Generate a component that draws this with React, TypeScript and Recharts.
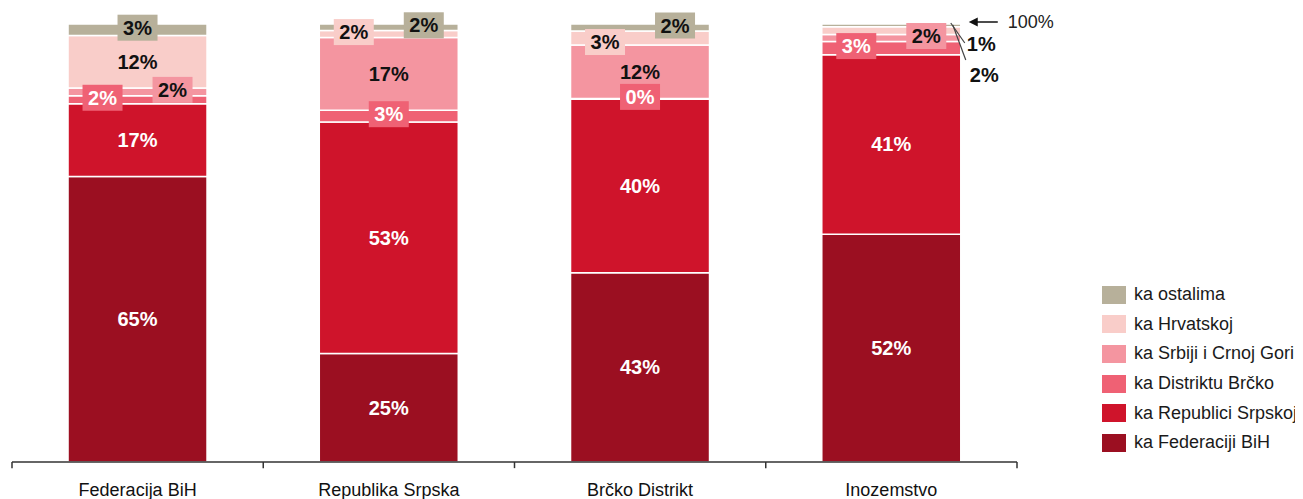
import { BarChart, Bar, XAxis, YAxis, LabelList, Legend, ReferenceLine } from 'recharts'

const FONT = '"Liberation Sans", Arial, sans-serif'

// categories on the x axis
const categories = ['Federacija BiH', 'Republika Srpska', 'Brčko Distrikt', 'Inozemstvo']

// share (%) of each destination, bottom to top of the stack
const seriesNames = [
  'ka Federaciji BiH',
  'ka Republici Srpskoj',
  'ka Distriktu Brčko',
  'ka Srbiji i Crnoj Gori',
  'ka Hrvatskoj',
  'ka ostalima',
]
const toFederacija = [65.2, 24.8, 43.2, 52.0]
const toRepublika = [16.6, 52.8, 39.6, 41.0]
const toDistrikt = [1.8, 2.7, 0.2, 3.0]
const toSrbija = [1.8, 16.6, 12.2, 1.6]
const toHrvatska = [12.0, 1.6, 3.2, 1.8]
const toOstali = [2.6, 1.5, 1.6, 0.6]

const seriesValues = [toFederacija, toRepublika, toDistrikt, toSrbija, toHrvatska, toOstali]
const seriesKeys = ['fbih', 'rs', 'bd', 'scg', 'hr', 'ost']
const seriesColors = ['#9b0f21', '#cf142b', '#ef6174', '#f495a0', '#f9cdc9', '#b7b09a']
const labelColors = ['#fff', '#fff', '#fff', '#111', '#111', '#111']

const data = categories.map((name, i) => {
  const row: Record<string, string | number> = { name }
  seriesKeys.forEach((k, s) => {
    row[k] = seriesValues[s][i]
  })
  return row
})

// where each segment label goes
type Place = {
  at: 'c' | 'box' | 'l' | 'r' | 'out'
  dy?: number
  line?: [number, number, number, number]
  text?: [number, number]
  arrow?: boolean
}
const C: Place = { at: 'c' }
const BOX: Place = { at: 'box' }
const L: Place = { at: 'l' }
const R: Place = { at: 'r' }
const OUT_HR: Place = { at: 'out', line: [-8, -1.6, 5, 33.4], text: [9, 48.4] }
const OUT_OST: Place = { at: 'out', line: [-10, -1, 4, 19], text: [6, 20], arrow: true }

const placements: Place[][] = [
  [C, C, C, C],
  [C, C, C, C],
  [L, BOX, BOX, L],
  [R, C, C, R],
  [C, L, { at: 'l', dy: 4 }, OUT_HR],
  [BOX, R, R, OUT_OST],
]

const renderLabel = (s: number) => (props: any) => {
  const vb = props.viewBox ?? props
  const x = Number(vb.x)
  const y = Number(vb.y)
  const w = Number(vb.width)
  const h = Number(vb.height)
  const i = Number(props.index)
  const value = seriesValues[s][i]
  if (value == null || isNaN(x)) return null
  const text = `${Math.round(value)}%`
  const p = placements[s][i]
  const cx = x + w / 2
  const cy = y + h / 2

  const txt = (tx: number, ty: number, fill: string, anchor = 'middle') => (
    <text
      x={tx}
      y={ty}
      fill={fill}
      textAnchor={anchor}
      dominantBaseline="central"
      fontSize={20}
      fontWeight="bold"
      fontFamily={FONT}
    >
      {text}
    </text>
  )

  if (p.at === 'c') return txt(cx, cy, labelColors[s])

  if (p.at === 'out') {
    const r = x + w
    const [lx1, ly1, lx2, ly2] = p.line!
    const [tx, ty] = p.text!
    return (
      <g>
        <line x1={r + lx1} y1={y + ly1} x2={r + lx2} y2={y + ly2} stroke="#444" strokeWidth={1.2} />
        {txt(r + tx, y + ty, '#111', 'start')}
        {p.arrow && (
          <g>
            <line x1={r + 14} y1={y - 2} x2={r + 37} y2={y - 2} stroke="#111" strokeWidth={1.5} />
            <polygon points={`${r + 8},${y - 2} ${r + 17},${y - 6.5} ${r + 17},${y + 2.5}`} fill="#111" />
            <text x={r + 47} y={y - 2} dominantBaseline="central" fontSize={18} fill="#222" fontFamily={FONT}>
              100%
            </text>
          </g>
        )}
      </g>
    )
  }

  const bx = p.at === 'l' ? cx - 35 : p.at === 'r' ? cx + 35 : cx
  const by = cy + (p.dy ?? -2)
  return (
    <g>
      <rect x={bx - 20} y={by - 13} width={40} height={26} fill={seriesColors[s]} />
      {txt(bx, by, labelColors[s])}
    </g>
  )
}

function LegendBox() {
  const rows = seriesNames.map((n, s) => ({ n, c: seriesColors[s] })).reverse()
  return (
    <div style={{ fontFamily: FONT, fontSize: 18, color: '#1a1a1a' }}>
      {rows.map((r) => (
        <div key={r.n} style={{ height: 29.6, display: 'flex', alignItems: 'center', whiteSpace: 'nowrap' }}>
          <span style={{ width: 24, height: 18, background: r.c, marginRight: 8, display: 'inline-block' }} />
          {r.n}
        </div>
      ))}
    </div>
  )
}

export default function App() {
  const last = categories[categories.length - 1]
  return (
    <div style={{ width: 1295, height: 491 }}>
      <BarChart
        width={1295}
        height={491}
        data={data}
        margin={{ top: 16, right: 286, left: 4, bottom: 0 }}
        barCategoryGap="22.3%"
      >
        <XAxis
          dataKey="name"
          height={37}
          tickLine={false}
          tickSize={0}
          tickMargin={21}
          axisLine={{ stroke: '#333', strokeWidth: 1.5 }}
          tick={{ fontSize: 18, fill: '#111', fontFamily: FONT }}
          interval={0}
        />
        <YAxis hide domain={[0, 100]} />
        {seriesKeys.map((k, s) => (
          <Bar
            key={k}
            dataKey={k}
            name={seriesNames[s]}
            stackId="a"
            fill={seriesColors[s]}
            stroke="#fff"
            strokeWidth={1.5}
            isAnimationActive={false}
          >
            <LabelList dataKey={k} content={renderLabel(s)} />
          </Bar>
        ))}
        {categories.map((c) => (
          <ReferenceLine
            key={c}
            segment={[
              { x: c, y: 0 },
              { x: c, y: -1.4 },
            ]}
            position="start"
            ifOverflow="visible"
            stroke="#333"
            strokeWidth={1.5}
          />
        ))}
        <ReferenceLine
          segment={[
            { x: last, y: 0 },
            { x: last, y: -1.4 },
          ]}
          position="end"
          ifOverflow="visible"
          stroke="#333"
          strokeWidth={1.5}
        />
        <Legend
          layout="vertical"
          align="center"
          verticalAlign="middle"
          wrapperStyle={{ left: 1094, top: 272, width: 209 }}
          content={() => <LegendBox />}
        />
      </BarChart>
    </div>
  )
}
